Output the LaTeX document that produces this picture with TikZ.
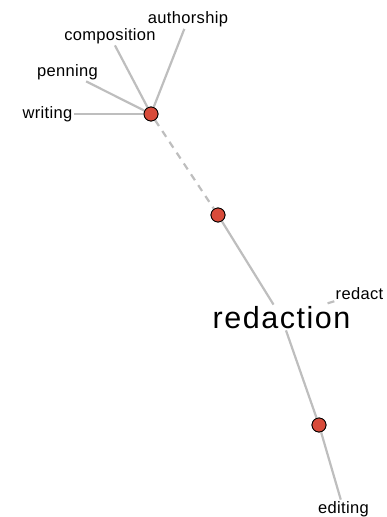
\documentclass[tikz,border=0pt]{standalone}
\usepackage{fontspec}
\setmainfont{Liberation Sans}
\usepackage{xcolor}
\definecolor{dotred}{HTML}{D84B3A}
\definecolor{linkgray}{HTML}{BEBEBE}
\usetikzlibrary{positioning}

\begin{document}
\begin{tikzpicture}[x=1pt, y=-1pt]

  \tikzstyle{hub}=[circle, draw=black, fill=dotred, line width=0.8pt, minimum size=14pt, inner sep=0pt]
  \tikzstyle{word}=[inner sep=1.5pt, font=\fontsize{16.5}{16.5}\selectfont\addfontfeature{LetterSpace=2}]
  \tikzstyle{head}=[inner sep=1.5pt, font=\fontsize{30.5}{30.5}\selectfont\addfontfeature{LetterSpace=5}]
  \tikzstyle{link}=[draw=linkgray, line width=2.2pt]
  \tikzstyle{weak}=[link, dash pattern=on 7pt off 6pt]

  \useasboundingbox (0,0) rectangle (386,517);

  \node [hub] (hub-0) at (151,114) {};
  \node [hub] (hub-1) at (218,215) {};
  \node [hub] (hub-2) at (319,425) {};

  \node [word] (authorship) at (188,19.5) {authorship};
  \node [word] (composition) at (110,36) {composition};
  \node [word] (penning) at (67.5,72) {penning};
  \node [word] (writing) at (47.5,114) {writing};

  \node [head] (redaction) at (281.5,317.5) {redaction};
  \node [word] (redact) at (359.5,293.5) {redact};
  \node [word] (editing) at (343.5,509) {editing};

  \foreach \w in {authorship, composition, penning, writing} {
    \draw [link] (hub-0) -- (\w);
  }

  \draw [weak] (hub-0) -- (hub-1);
  \draw [link] (hub-1) -- (redaction);
  \draw [link] (redaction) -- (hub-2);
  \draw [link] (hub-2) -- (editing);
  \draw [weak] (redact) -- (redaction);

  % dots on top of the lines
  \foreach \h in {0,1,2} {
    \node [hub] at (hub-\h) {};
  }

\end{tikzpicture}
\end{document}
